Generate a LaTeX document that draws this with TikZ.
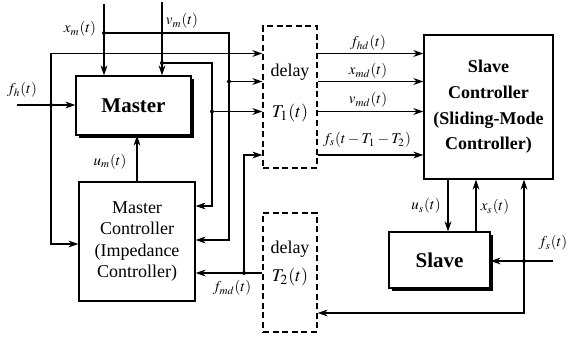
\documentclass[tikz,border=0pt]{standalone}
\usepackage{mathptmx}
\usepackage{fontspec}
\setmainfont{Liberation Serif}
\usetikzlibrary{arrows.meta,shadows}

\begin{document}
\begin{tikzpicture}[x=0.5pt,y=-0.5pt,>={Stealth[length=5pt,width=3.4pt]},semithick,
    block/.style={draw,fill=white,align=center,inner sep=0pt},
    shadowed/.style={drop shadow={shadow xshift=1.6pt,shadow yshift=-1.6pt,fill=black,opacity=1}},
    delaybox/.style={draw,dash pattern=on 3pt off 1.8pt,minimum width=27pt},
    lbl/.style={font=\fontsize{7.5}{9}\selectfont},
    boxtext/.style={font=\fontsize{9}{9}\selectfont},
    dot/.style={circle,fill,inner sep=0pt,minimum size=2pt}]
  \useasboundingbox (0,0) rectangle (570,337);
  % blocks
  \node[block,shadowed,minimum width=57.5pt,minimum height=29.5pt,
    font=\bfseries\fontsize{10.5}{12}\selectfont] (master) at (133.5,105.5) {Master};
  \node[block,minimum width=58pt,minimum height=59.5pt,
    font=\fontsize{9}{10.75}\selectfont] (mctrl) at (137,241.5)
    {Master\\Controller\\(Impedance\\Controller)};
  \node[block,minimum width=64.5pt,minimum height=72pt,
    font=\bfseries\fontsize{9}{12.8}\selectfont] (sctrl) at (488.5,107)
    {Slave\\Controller\\(Sliding-Mode\\Controller)};
  \node[block,shadowed,minimum width=50.5pt,minimum height=28pt,
    font=\bfseries\fontsize{10.5}{12}\selectfont] (slave) at (439.5,260) {Slave};
  % delays
  \node[delaybox,minimum height=71pt] (delayA) at (290,97) {};
  \node[boxtext] (delayAname) at (290,72) {delay};
  \node[boxtext] (delayAtime) at (290,113) {$T_1(t)$};
  \node[delaybox,minimum height=59.5pt] (delayB) at (290,272.5) {};
  \node[boxtext] (delayBname) at (290,249) {delay};
  \node[boxtext] (delayBtime) at (290,277) {$T_2(t)$};

  % master side signals
  \coordinate (xmin) at (104,4);
  \coordinate (vmin) at (162,2);
  \coordinate (fhin) at (17,105);
  \coordinate (jxm) at (104,33);
  \coordinate (jvm) at (162,63);
  \coordinate (jfh) at (51,105);
  \coordinate (xmbus) at (229,33);
  \coordinate (vmbus) at (212,63);
  \coordinate (fhtop) at (51,53.5);
  \coordinate (fhbot) at (51,244);
  \coordinate (jxd) at (229,81.5);
  \coordinate (jvd) at (212,111.5);
  \coordinate (xmlow) at (229,240);
  \coordinate (vmlow) at (212,206);
  \coordinate (jfmd) at (244,273);
  \coordinate (fmdtop) at (244,155);

  \draw[->] (xmin) -- (xmin |- master.north);
  \draw[->] (vmin) -- (vmin |- master.north);
  \draw[->] (fhin) -- (fhin -| master.west);
  \draw[->] (fhtop) -- (fhtop -| delayA.west);
  \draw[->] (fhtop) -- (fhbot) -- (fhbot -| mctrl.west);
  \draw[->] (jxm) -- (xmbus) -- (xmlow) -- (xmlow -| mctrl.east);
  \draw[->] (jxd) -- (jxd -| delayA.west);
  \draw[->] (jvm) -- (vmbus) -- (vmlow) -- (vmlow -| mctrl.east);
  \draw[->] (jvd) -- (jvd -| delayA.west);
  \draw[->] (mctrl.north) -- (mctrl.north |- master.south);
  \draw[->] (jfmd -| delayB.west) -- (jfmd -| mctrl.east);
  \draw[->] (jfmd) -- (fmdtop) -- (fmdtop -| delayA.west);
  \foreach \j in {jfh,jxm,jvm,jxd,jvd,jfmd}
    \node[dot] at (\j) {};

  % delayed signals to the slave controller
  \foreach \s in {fhtop,jxd,jvd,fmdtop}
    \draw[->] (\s -| delayA.east) -- (\s -| sctrl.west);

  % slave side signals
  \coordinate (us) at (448,0);
  \coordinate (xs) at (476,0);
  \coordinate (fsin) at (553,261);
  \coordinate (jfs) at (524,261);
  \coordinate (fslow) at (524,313);
  \draw[->] (us |- sctrl.south) -- (us |- slave.north);
  \draw[->] (xs |- slave.north) -- (xs |- sctrl.south);
  \draw[->] (fsin) -- (fsin -| slave.east);
  \draw[->] (jfs) -- (jfs |- sctrl.south);
  \draw[->] (jfs) -- (fslow) -- (fslow -| delayB.east);
  \node[dot] at (jfs) {};

  % labels
  \node[lbl] (xmlbl) at (80,29) {$x_m(t)$};
  \node[lbl] (vmlbl) at (182,21) {$v_m(t)$};
  \node[lbl] (fhlbl) at (22,90) {$f_h(t)$};
  \node[lbl] (umlbl) at (110,162) {$u_m(t)$};
  \node[lbl] (fmdlbl) at (232,288) {$f_{md}(t)$};
  \node[lbl] (fhdlbl) at (368,43) {$f_{hd}(t)$};
  \node[lbl] (xmdlbl) at (368,71) {$x_{md}(t)$};
  \node[lbl] (vmdlbl) at (368,100) {$v_{md}(t)$};
  \node[lbl] (fsdlbl) at (367,140) {$f_s(t-T_1-T_2)$};
  \node[lbl] (uslbl) at (426,206) {$u_s(t)$};
  \node[lbl] (xslbl) at (495,207) {$x_s(t)$};
  \node[lbl] (fslbl) at (553,243) {$f_s(t)$};
\end{tikzpicture}
\end{document}
